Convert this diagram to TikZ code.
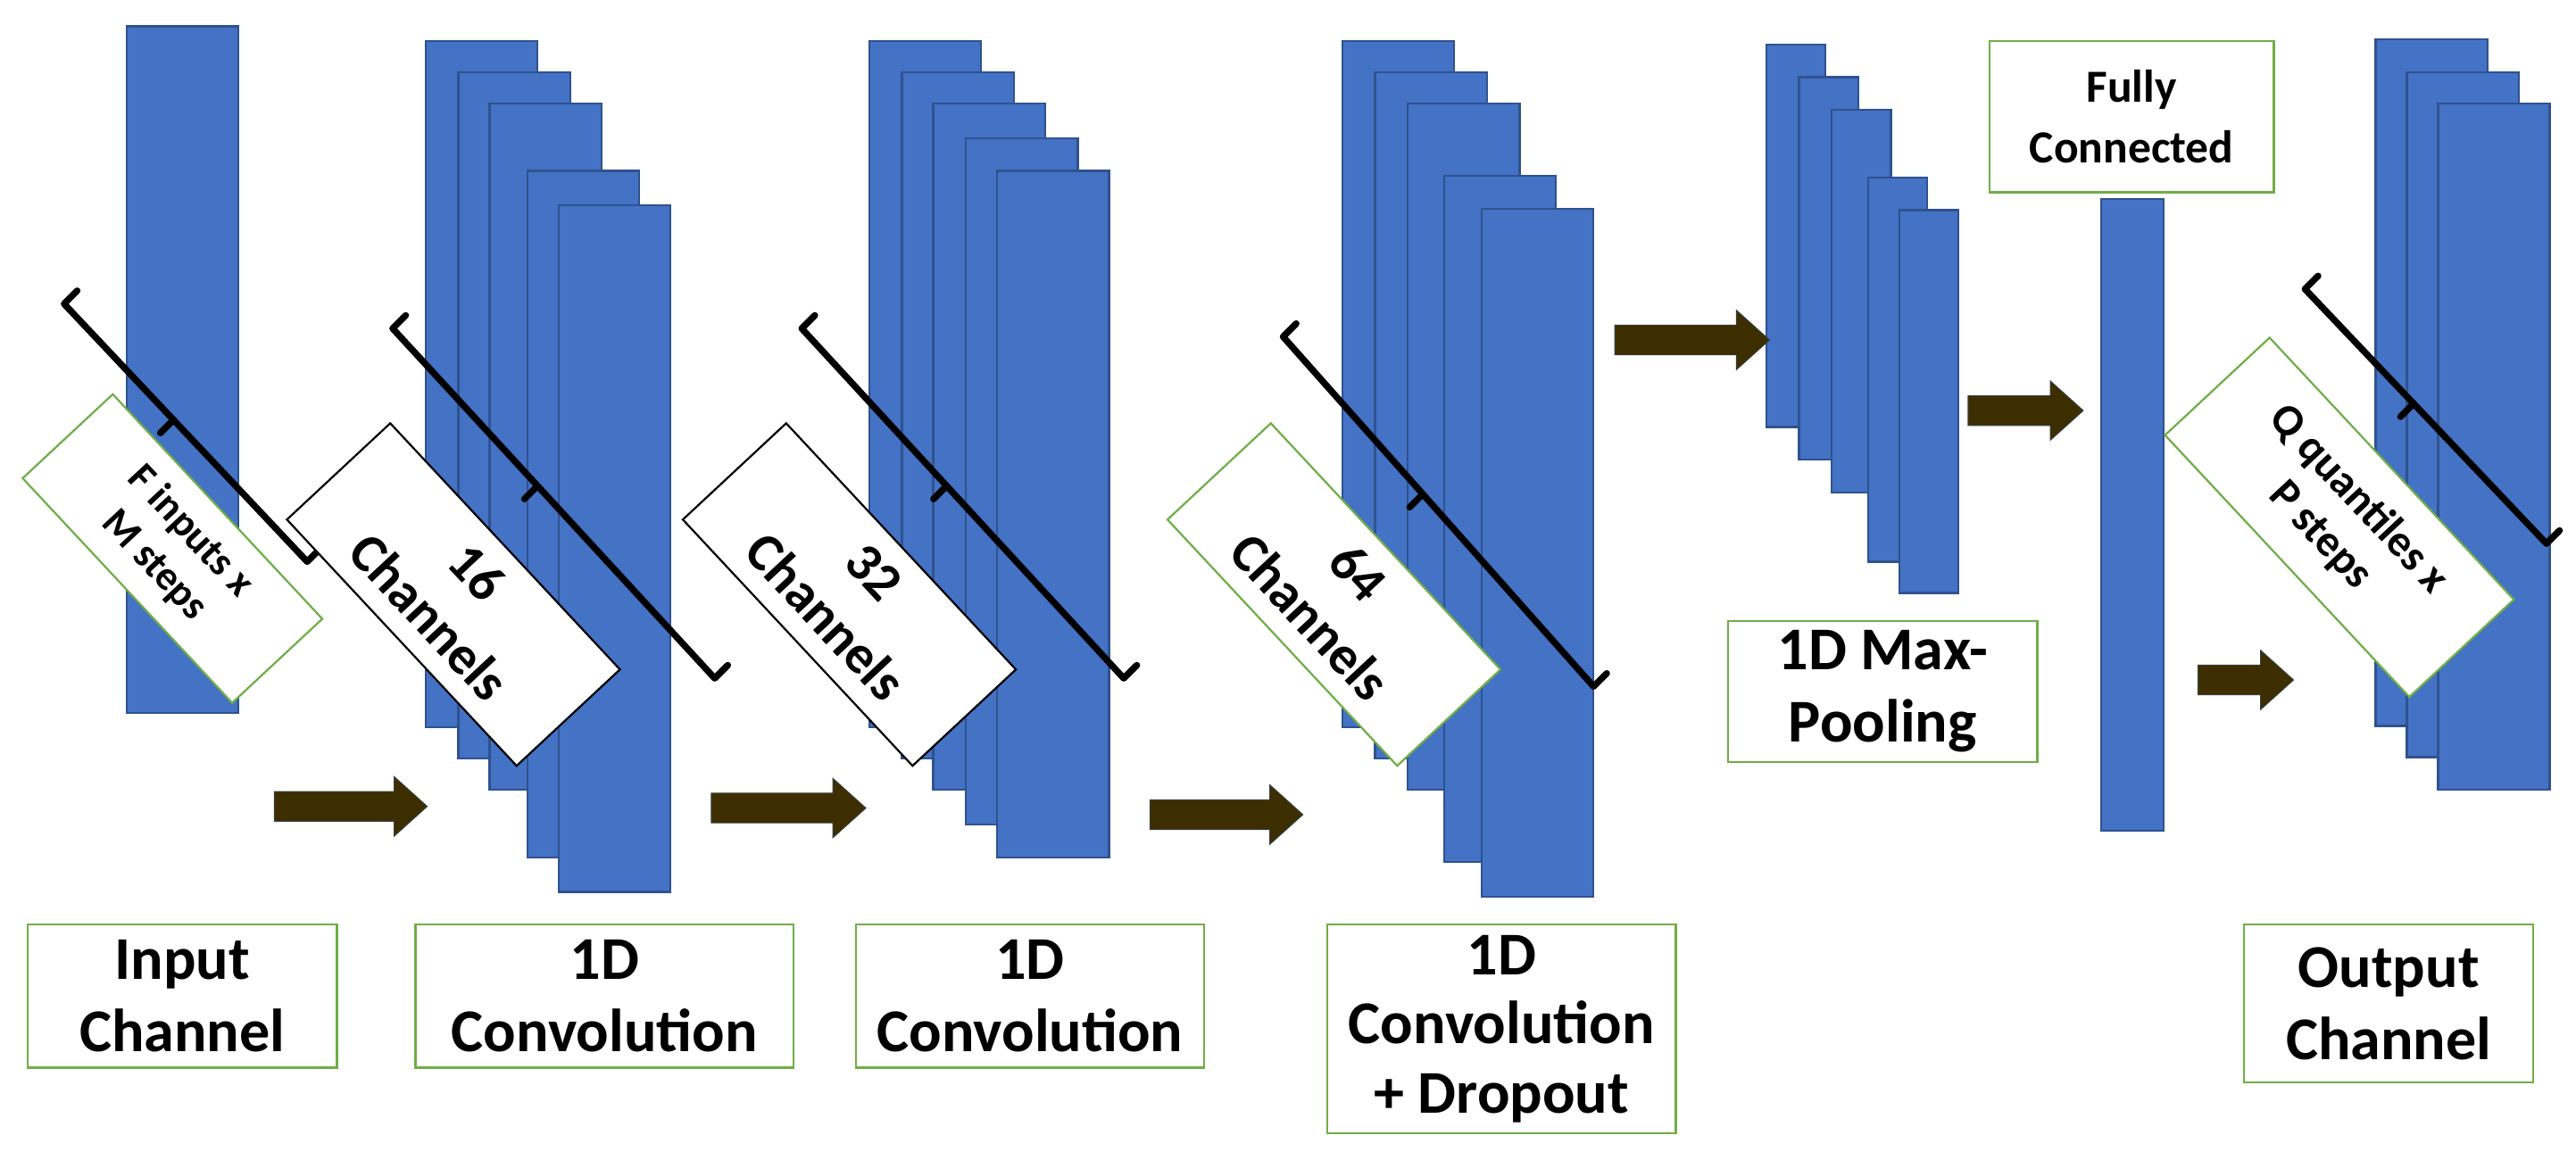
\documentclass[tikz,border=0pt]{standalone}
\usepackage{fontspec}
\setmainfont{Carlito}
\usetikzlibrary{calc}
\definecolor{blk}{HTML}{4472C4}
\definecolor{blkb}{HTML}{2F528F}
\definecolor{grn}{HTML}{70AD47}
\definecolor{arr}{HTML}{3D2E00}
\begin{document}
\begin{tikzpicture}[x=1pt,y=-1pt,
  layer/.style={fill=blk,draw=blkb,line width=1.2pt},
  lab/.style={draw=grn,line width=1.3pt,fill=white,align=center,font=\fontsize{37}{44}\selectfont\bfseries,inner sep=0pt},
  rlab/.style={fill=white,line width=1.2pt,align=center,inner sep=0pt,rotate=-47},
  fwd/.style={fill=arr,draw=blkb!40!arr,line width=0.6pt},
  brk/.style={line width=4pt,line cap=round,line join=round}]
\useasboundingbox (0,0) rectangle (1568,706);
% input
\path[layer] (77,16) rectangle (145,434);
% conv1
\foreach \x/\t/\b in {259/25/443,279/44/462,298/63/481,321/104/522,340/125/543}
  \path[layer] (\x,\t) rectangle ++(68,\b-\t);
% conv2
\foreach \x/\t/\b in {529/25/443,549/44/462,568/63/481,588/84/502,607/104/522}
  \path[layer] (\x,\t) rectangle ++(68,\b-\t);
% conv3
\foreach \x/\t/\b in {817/25/443,837/44/462,857/63/481,879/107/525,902/127/546}
  \path[layer] (\x,\t) rectangle ++(68,\b-\t);
% maxpool
\foreach \x/\t/\b in {1075/27/260,1095/47/280,1115/67/300,1137/108/342,1156/128/361}
  \path[layer] (\x,\t) rectangle ++(36,\b-\t);
% fc
\path[layer] (1279,121) rectangle (1317,506);
% output
\foreach \x/\t/\b in {1446/24/442,1465/44/461,1484/63/481}
  \path[layer] (\x,\t) rectangle ++(68,\b-\t);
% brackets
\foreach \n/\sx/\sy/\ex/\ey in {bf/39/185/187/342,b1/239/200/435/413,b2/488/200/684/413,b3/781/205/970/418,bq/1403/176/1550/331}{
  \coordinate (\n s) at (\sx,\sy);
  \coordinate (\n e) at (\ex,\ey);
  \coordinate (\n m) at ($(\n s)!0.45!(\n e)$);
  \draw[brk] ($(\n s)+(8,-8)$) -- (\n s) -- (\n e) -- ($(\n e)+(8,-8)$);
  \draw[brk] (\n m) -- ($(\n m)+(-8,8)$);
}
% rotated labels
\node[rlab,draw=grn,minimum width=187pt,minimum height=75pt,font=\fontsize{25}{30}\selectfont\bfseries] (tf) at (105,334) {F inputs x\\M steps};
\node[rlab,draw=black,minimum width=205pt,minimum height=86pt,font=\fontsize{33}{40}\selectfont\bfseries] (t1) at (276,362) {16\\Channels};
\node[rlab,draw=black,minimum width=205pt,minimum height=86pt,font=\fontsize{33}{40}\selectfont\bfseries] (t2) at (517,362) {32\\Channels};
\node[rlab,draw=grn,minimum width=205pt,minimum height=86pt,font=\fontsize{33}{40}\selectfont\bfseries] (t3) at (812,362) {64\\Channels};
\node[rlab,draw=grn,minimum width=218pt,minimum height=87pt,font=\fontsize{27}{32}\selectfont\bfseries] (tq) at (1424,315) {Q quantiles x\\P steps};
% arrows
\foreach \n/\xa/\xb/\y in {a1/167/260/491,a2/433/527/492,a3/700/793/496,a4/983/1077/207,a5/1198/1268/250,a6/1338/1396/414}{
  \coordinate (\n) at (\xb,\y);
  \path[fwd] (\xa,\y-9) -- (\xb-20,\y-9) -- (\xb-20,\y-18) -- (\n) -- (\xb-20,\y+18) -- (\xb-20,\y+9) -- (\xa,\y+9) -- cycle;
}
% bottom labels
\node[lab,minimum width=188pt,minimum height=87pt] (l0) at (111,606.5) {Input\\Channel};
\node[lab,minimum width=230pt,minimum height=87pt] (l1) at (368,606.5) {1D\\Convolution};
\node[lab,minimum width=212pt,minimum height=87pt] (l2) at (627,606.5) {1D\\Convolution};
\node[lab,minimum width=212pt,minimum height=127pt,font=\fontsize{37}{42}\selectfont\bfseries] (l3) at (914,626.5) {1D\\Convolution\\+ Dropout};
\node[lab,minimum width=188pt,minimum height=86pt] (l4) at (1146,421) {1D Max-\\Pooling};
\node[lab,minimum width=173pt,minimum height=92pt,font=\fontsize{28}{37}\selectfont\bfseries] (l5) at (1297.5,71) {Fully\\Connected};
\node[lab,minimum width=176pt,minimum height=96pt] (l6) at (1454,611) {Output\\Channel};
\end{tikzpicture}
\end{document}
